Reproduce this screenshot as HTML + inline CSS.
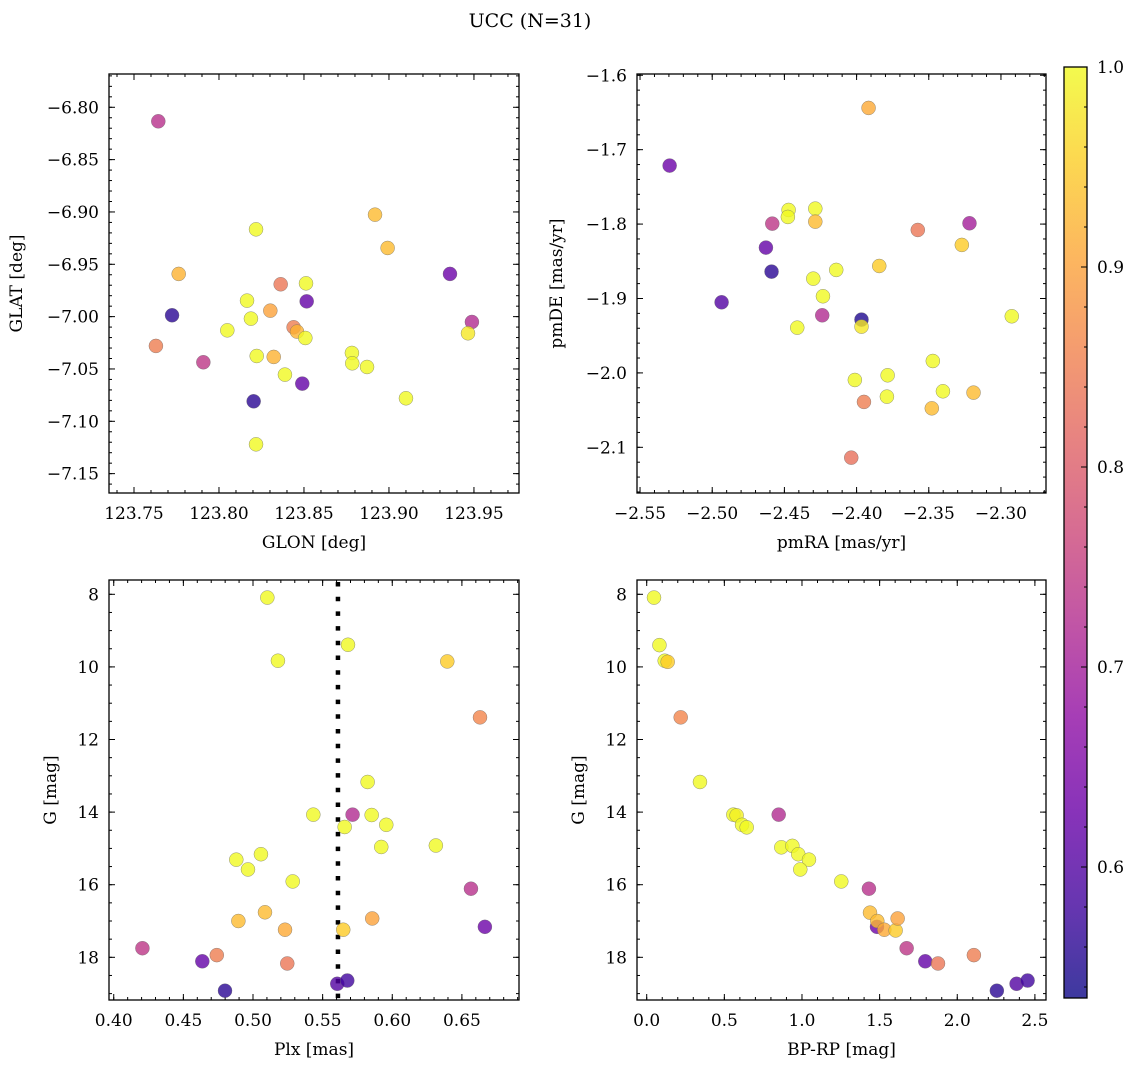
<!DOCTYPE html>
<html><head><meta charset="utf-8">
<style>
html,body{margin:0;padding:0;background:#fff;}
svg{display:block;font-family:"DejaVu Serif","Liberation Serif",serif;}
</style></head>
<body>
<svg id="fig" width="1136" height="1067" viewBox="0 0 1136 1067" xmlns="http://www.w3.org/2000/svg">
<text x="530" y="27" font-size="19" text-anchor="middle">UCC (N=31)</text>
</svg>
<script>
// ---- data ----
const glon = [123.7643,123.8218,123.8918,123.8992,123.7763,123.9359,123.8363,123.8512,123.8165,123.8516,123.7724,123.8302,123.8188,123.9488,123.8049,123.8439,123.8459,123.8508,123.9465,123.7629,123.7908,123.8222,123.8322,123.8782,123.8784,123.8871,123.8388,123.8490,123.8204,123.9100,123.8218];
const glat = [-6.8134,-6.9166,-6.9026,-6.9344,-6.9592,-6.9592,-6.9691,-6.9682,-6.9847,-6.9854,-6.9987,-6.9943,-7.0019,-7.0051,-7.0131,-7.0102,-7.0143,-7.0204,-7.0159,-7.0280,-7.0436,-7.0376,-7.0385,-7.0347,-7.0446,-7.0481,-7.0554,-7.0640,-7.0809,-7.0780,-7.1220];
const probA = [0.73,1.0,0.93,0.93,0.92,0.63,0.84,1.0,1.0,0.62,0.56,0.90,1.0,0.72,1.0,0.85,0.92,1.0,0.98,0.85,0.74,1.0,0.92,1.0,1.0,1.0,1.0,0.62,0.56,1.0,1.0];

const pmra = [-2.3917,-2.5295,-2.4471,-2.4476,-2.4286,-2.4286,-2.4584,-2.3576,-2.3218,-2.3271,-2.4628,-2.4589,-2.4141,-2.3843,-2.4300,-2.4233,-2.4935,-2.4238,-2.3966,-2.3966,-2.4411,-2.2925,-2.3472,-2.4012,-2.3785,-2.3402,-2.3790,-2.3949,-2.3479,-2.3190,-2.4037];
const pmde = [-1.6439,-1.7214,-1.7810,-1.7904,-1.7792,-1.7967,-1.7994,-1.8079,-1.7989,-1.8280,-1.8316,-1.8639,-1.8616,-1.8563,-1.8733,-1.8970,-1.9051,-1.9226,-1.9284,-1.9378,-1.9392,-1.9239,-1.9840,-2.0095,-2.0032,-2.0247,-2.0319,-2.0390,-2.0476,-2.0265,-2.1139];
const probB = [0.91,0.63,1.0,1.0,1.0,0.93,0.74,0.84,0.70,0.95,0.62,0.56,1.0,0.95,1.0,1.0,0.60,0.72,0.55,0.98,1.0,1.0,1.0,1.0,1.0,1.0,1.0,0.85,0.93,0.93,0.83];

const plx = [0.5103,0.5682,0.5179,0.6395,0.6630,0.5823,0.5433,0.5715,0.5852,0.5658,0.5957,0.6313,0.5921,0.5057,0.4880,0.4964,0.5285,0.6565,0.5086,0.4895,0.5230,0.5648,0.5856,0.6665,0.4206,0.4740,0.4636,0.5246,0.4799,0.5605,0.5677];
const gmagC = [8.09,9.39,9.83,9.85,11.39,13.17,14.07,14.07,14.08,14.41,14.35,14.92,14.96,15.16,15.31,15.58,15.91,16.11,16.76,17.00,17.24,17.24,16.93,17.16,17.75,17.94,18.11,18.17,18.92,18.73,18.64];
const probC = [1.0,1.0,1.0,0.95,0.86,1.0,1.0,0.72,1.0,1.0,1.0,1.0,1.0,1.0,1.0,1.0,1.0,0.73,0.93,0.93,0.91,0.95,0.90,0.63,0.74,0.85,0.62,0.84,0.56,0.60,0.58];
const plxMedian = [0.561];

const bprp = [0.047,0.082,0.116,0.135,0.219,0.343,0.558,0.579,0.850,0.614,0.644,0.867,0.938,0.976,1.045,0.989,1.253,1.431,1.438,1.483,1.485,1.530,1.603,1.616,1.674,1.794,1.876,2.107,2.255,2.382,2.453];
const gmagD = [8.09,9.40,9.83,9.86,11.39,13.17,14.07,14.09,14.07,14.35,14.42,14.97,14.93,15.16,15.31,15.58,15.91,16.11,16.77,17.16,17.00,17.24,17.26,16.93,17.75,18.11,18.17,17.94,18.92,18.73,18.64];
const probD = [1.0,1.0,1.0,0.95,0.86,1.0,1.0,0.99,0.72,1.0,1.0,1.0,1.0,1.0,1.0,1.0,1.0,0.73,0.93,0.63,0.93,0.91,0.95,0.90,0.74,0.62,0.84,0.85,0.56,0.60,0.58];

const xTicksA = [123.75,123.80,123.85,123.90,123.95];
const yTicksA = [-6.80,-6.85,-6.90,-6.95,-7.00,-7.05,-7.10,-7.15];
const xTicksB = [-2.55,-2.50,-2.45,-2.40,-2.35,-2.30];
const yTicksB = [-1.6,-1.7,-1.8,-1.9,-2.0,-2.1];
const xTicksC = [0.40,0.45,0.50,0.55,0.60,0.65];
const yTicksG = [8,10,12,14,16,18];
const xTicksD = [0.0,0.5,1.0,1.5,2.0,2.5];
const cbTicks = [0.6,0.7,0.8,0.9,1.0];
const cRange = [0.5345,1.0];

// ---- helpers ----
const NS = "http://www.w3.org/2000/svg";
const svg = document.getElementById('fig');
function mk(tag, attrs, parent){
  const e = document.createElementNS(NS, tag);
  for (const k in attrs) e.setAttribute(k, attrs[k]);
  (parent||svg).appendChild(e);
  return e;
}
const plasma = [[13,8,135],[65,4,157],[106,0,168],[143,13,164],[177,42,144],[204,71,120],[225,100,98],[242,132,75],[252,166,54],[252,206,37],[240,249,33]];
function cmap(v){
  let t = (v - cRange[0])/(cRange[1]-cRange[0]);
  t = Math.max(0, Math.min(1, t));
  const p = t*10, i = Math.min(9, Math.floor(p)), f = p - i;
  const a = plasma[i], b = plasma[i+1];
  return 'rgb(' + [0,1,2].map(k => Math.round(a[k]+(b[k]-a[k])*f)).join(',') + ')';
}
function fmt(v, d){ const s = Math.abs(v).toFixed(d); return (v < -1e-9 ? '\u2212' : '') + s; }

function panel(o){
  const g = mk('g', {});
  
  
  const W = o.x1 - o.x0, H = o.y1 - o.y0;
  const sx = v => o.x0 + (v - o.xl)/(o.xr - o.xl)*W;
  const sy = v => o.y0 + (v - o.yt)/(o.yb - o.yt)*H;
  const tk = mk('g', {stroke:'#000','stroke-width':1}, g);
  
  
  const xlo = Math.min(o.xl,o.xr), xhi = Math.max(o.xl,o.xr);
  for (let k = Math.ceil(xlo/o.xm - 1e-6); k*o.xm <= xhi + 1e-9; k++){
    const px = sx(k*o.xm);
    mk('line',{x1:px,x2:px,y1:o.y1,y2:o.y1-3},tk);
    mk('line',{x1:px,x2:px,y1:o.y0,y2:o.y0+3},tk);
  }
  const ylo = Math.min(o.yt,o.yb), yhi = Math.max(o.yt,o.yb);
  for (let k = Math.ceil(ylo/o.ym - 1e-6); k*o.ym <= yhi + 1e-9; k++){
    const py = sy(k*o.ym);
    mk('line',{x1:o.x0,x2:o.x0+3,y1:py,y2:py},tk);
    mk('line',{x1:o.x1,x2:o.x1-3,y1:py,y2:py},tk);
  }
  o.xt.forEach(v => {
    const px = sx(v);
    mk('line',{x1:px,x2:px,y1:o.y1,y2:o.y1-6},tk);
    mk('line',{x1:px,x2:px,y1:o.y0,y2:o.y0+6},tk);
    const t = mk('text',{x:px,y:o.y1+26,'font-size':17,'text-anchor':'middle',stroke:'none'},g);
    
    
    t.textContent = fmt(v, o.xd);
  });
  o.yt2.forEach(v => {
    const py = sy(v);
    mk('line',{x1:o.x0,x2:o.x0+6,y1:py,y2:py},tk);
    mk('line',{x1:o.x1,x2:o.x1-6,y1:py,y2:py},tk);
    const t = mk('text',{x:o.x0-10,y:py+6,'font-size':17,'text-anchor':'end',stroke:'none'},g);
    
    
    t.textContent = fmt(v, o.yd);
  });
  if (o.vline){
    o.vline.forEach(v => {
      const l = mk('line',{x1:sx(v),x2:sx(v),y1:o.y0+2,y2:o.y1,stroke:'#000','stroke-width':4.5,'stroke-dasharray':'4.5 10.2'},g);
      
      
    });
  }
  o.xs.forEach((v, i) => {
    const c = mk('circle',{cx:sx(v),cy:sy(o.ys[i]),r:7,fill:cmap(o.cs[i]),'fill-opacity':0.8,stroke:'#666','stroke-opacity':0.7,'stroke-width':0.5},g);
    
    
  });
  const fr = mk('rect',{x:o.x0,y:o.y0,width:W,height:H,fill:'none',stroke:'#000','stroke-width':1.3},g);
  
  
  const xl = mk('text',{x:(o.x0+o.x1)/2,y:o.y1+55,'font-size':17,'text-anchor':'middle'},g);
  
  
  xl.textContent = o.xlab;
  const yx = o.ylx, yy = (o.y0+o.y1)/2;
  const yl = mk('text',{x:yx,y:yy,'font-size':17,'text-anchor':'middle',transform:'rotate(-90 '+yx+' '+yy+')'},g);
  
  
  yl.textContent = o.ylab;
}

panel({name:'glon-glat-panel',x0:109,x1:519,y0:74,y1:493,xl:123.7353,xr:123.9765,yt:-6.7682,yb:-7.1685,
  xs:glon,ys:glat,cs:probA,xt:xTicksA,yt2:yTicksA,xd:2,yd:2,xm:0.01,ym:0.01,xlab:'GLON [deg]',ylab:'GLAT [deg]',ylx:22});
panel({name:'pm-panel',x0:637,x1:1046,y0:74,y1:493,xl:-2.5521,xr:-2.2688,yt:-1.5983,yb:-2.1614,
  xs:pmra,ys:pmde,cs:probB,xt:xTicksB,yt2:yTicksB,xd:2,yd:1,xm:0.01,ym:0.02,xlab:'pmRA [mas/yr]',ylab:'pmDE [mas/yr]',ylx:562});
panel({name:'plx-g-panel',x0:109,x1:519,y0:580,y1:1000,xl:0.3966,xr:0.6910,yt:7.606,yb:19.176,
  xs:plx,ys:gmagC,cs:probC,xt:xTicksC,yt2:yTicksG,xd:2,yd:0,xm:0.01,ym:0.5,xlab:'Plx [mas]',ylab:'G [mag]',ylx:56,vline:plxMedian});
panel({name:'cmd-panel',x0:637,x1:1046,y0:580,y1:1000,xl:-0.0625,xr:2.5715,yt:7.606,yb:19.176,
  xs:bprp,ys:gmagD,cs:probD,xt:xTicksD,yt2:yTicksG,xd:1,yd:0,xm:0.1,ym:0.5,xlab:'BP-RP [mag]',ylab:'G [mag]',ylx:584});

// ---- colorbar ----
const cb = {x0:1064,x1:1087,y0:67,y1:998};
const defs = mk('defs',{});
const grad = mk('linearGradient',{id:'plasmaGrad',x1:0,y1:1,x2:0,y2:0},defs);
plasma.forEach((c,i) => mk('stop',{offset:(i*10)+'%','stop-color':'rgb('+c.join(',')+')'},grad));
const cbg = mk('g',{});


mk('rect',{x:cb.x0,y:cb.y0,width:cb.x1-cb.x0,height:cb.y1-cb.y0,fill:'url(#plasmaGrad)','fill-opacity':0.8},cbg);
const cy = v => cb.y1 - (v - cRange[0])/(cRange[1]-cRange[0])*(cb.y1-cb.y0);
for (let k = 27; k*0.02 <= 1.0001; k++){
  const v = k*0.02; if (v < cRange[0]) continue;
  mk('line',{x1:cb.x1,x2:cb.x1-3,y1:cy(v),y2:cy(v),stroke:'#000','stroke-width':1},cbg);
}
cbTicks.forEach(v => {
  mk('line',{x1:cb.x1,x2:cb.x1-6,y1:cy(v),y2:cy(v),stroke:'#000','stroke-width':1},cbg);
  const t = mk('text',{x:cb.x1+10,y:cy(v)+6,'font-size':17},cbg);
  
  
  t.textContent = v.toFixed(1);
});
mk('rect',{x:cb.x0,y:cb.y0,width:cb.x1-cb.x0,height:cb.y1-cb.y0,fill:'none',stroke:'#000','stroke-width':1.3},cbg);
</script>
</body></html>
